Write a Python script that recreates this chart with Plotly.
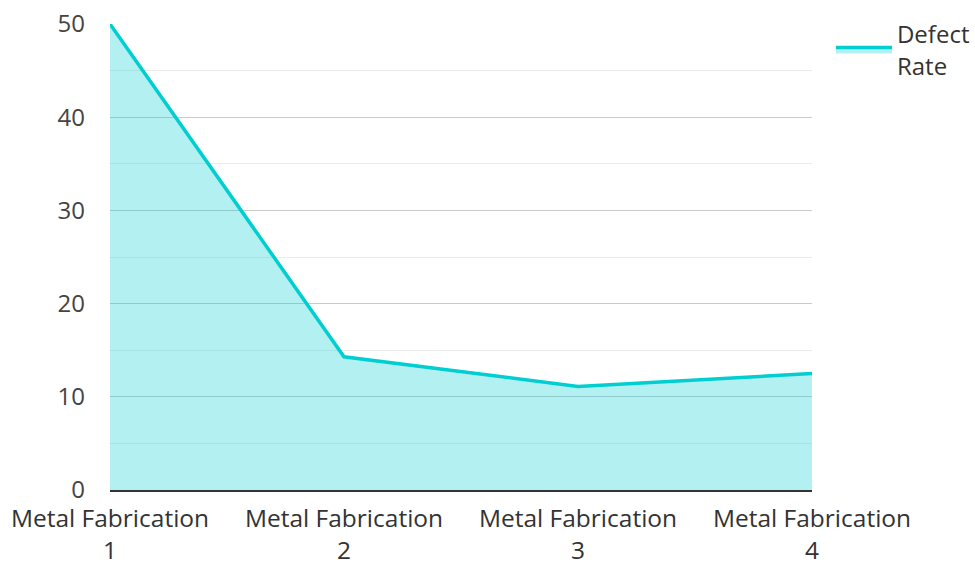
import plotly.graph_objects as go

# Defect rate per fabrication line
categories = ["Metal Fabrication<br>1", "Metal Fabrication<br>2",
              "Metal Fabrication<br>3", "Metal Fabrication<br>4"]
defect_rate = [50, 14.29, 11.11, 12.5]
series_name = "Defect<br>Rate"

positions = list(range(len(categories)))

fig = go.Figure()
fig.add_trace(go.Scatter(
    x=positions,
    y=defect_rate,
    name=series_name,
    mode="lines",
    line=dict(color="#00CED1", width=3.5),
    fill="tozeroy",
    fillcolor="rgba(0,206,209,0.3)",
))

font_family = "Open Sans"
fig.update_layout(
    width=975,
    height=562,
    margin=dict(l=110, r=163, t=24, b=72, autoexpand=False),
    paper_bgcolor="white",
    plot_bgcolor="white",
    font=dict(family=font_family, size=24, color="#444"),
    showlegend=True,
    legend=dict(
        x=1.027, y=1.026, xanchor="left", yanchor="top",
        font=dict(family=font_family, size=24, color="#333"),
        bgcolor="rgba(0,0,0,0)",
        itemwidth=56,
    ),
    xaxis=dict(
        automargin=False,
        range=[0, len(categories) - 1],
        tickmode="array",
        tickvals=positions,
        ticktext=categories,
        showgrid=False,
        zeroline=False,
        showline=True,
        linecolor="#333",
        linewidth=2,
        ticks="",
        ticklabelstandoff=6,
        tickfont=dict(family=font_family, size=24.5, color="#333"),
    ),
    yaxis=dict(
        automargin=False,
        range=[0, 50],
        tick0=0,
        dtick=10,
        showgrid=True,
        gridcolor="#cacaca",
        gridwidth=1,
        zeroline=False,
        showline=False,
        ticks="",
        ticklabelstandoff=24,
        tickfont=dict(family=font_family, size=24, color="#444"),
        minor=dict(dtick=5, showgrid=True, gridcolor="#ebebeb", gridwidth=1),
    ),
)

fig.write_html("out.html")
